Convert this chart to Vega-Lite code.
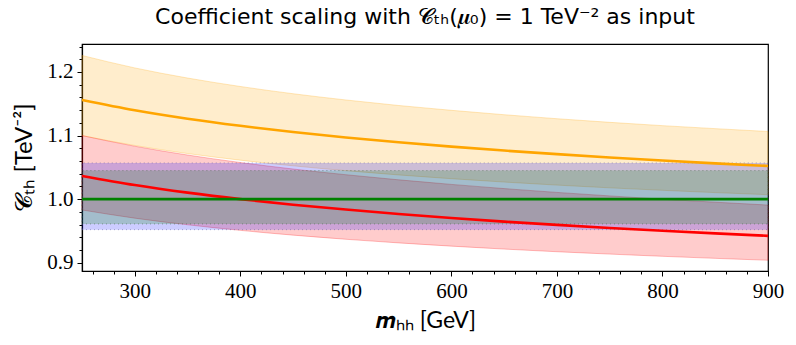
{
  "$schema": "https://vega.github.io/schema/vega-lite/v6.json",
  "width": 686,
  "height": 227,
  "autosize": {"type": "none"},
  "padding": {"left": 82, "top": 44, "right": 28, "bottom": 74},
  "title": {
    "text": "Coefficient scaling with 𝓒ₜₕ(𝝁₀) = 1 TeV⁻² as input",
    "font": "DejaVu Sans",
    "fontSize": 22,
    "fontWeight": "normal",
    "color": "black",
    "anchor": "middle",
    "offset": 7
  },
  "config": {
    "view": {"stroke": "black", "strokeWidth": 1.2},
    "axis": {
      "grid": false,
      "domainColor": "black",
      "domainWidth": 1.2,
      "tickColor": "black",
      "labelColor": "black",
      "titleColor": "black",
      "labelFont": "Liberation Serif",
      "labelFontSize": 21,
      "labelOverlap": false,
      "labelFlush": false,
      "labelBound": false
    }
  },
  "data": {
    "values": [
      {"m": 250, "o": 1.156, "olo": 1.100, "ohi": 1.226, "r": 1.0366, "rlo": 0.983, "rhi": 1.100, "g": 1.0, "glo": 0.961, "ghi": 1.045, "blo": 0.952, "bhi": 1.057},
      {"m": 300, "o": 1.1398, "olo": 1.0844, "ohi": 1.2064, "r": 1.0222, "rlo": 0.9701, "rhi": 1.0832, "g": 1.0, "glo": 0.961, "ghi": 1.045, "blo": 0.952, "bhi": 1.057},
      {"m": 350, "o": 1.1265, "olo": 1.0717, "ohi": 1.1905, "r": 1.0102, "rlo": 0.9597, "rhi": 1.0694, "g": 1.0, "glo": 0.961, "ghi": 1.045, "blo": 0.952, "bhi": 1.057},
      {"m": 400, "o": 1.1153, "olo": 1.0613, "ohi": 1.1772, "r": 1.0000, "rlo": 0.9509, "rhi": 1.0576, "g": 1.0, "glo": 0.961, "ghi": 1.045, "blo": 0.952, "bhi": 1.057},
      {"m": 450, "o": 1.1055, "olo": 1.0524, "ohi": 1.1658, "r": 0.9913, "rlo": 0.9434, "rhi": 1.0474, "g": 1.0, "glo": 0.961, "ghi": 1.045, "blo": 0.952, "bhi": 1.057},
      {"m": 500, "o": 1.0970, "olo": 1.0448, "ohi": 1.1560, "r": 0.9836, "rlo": 0.9369, "rhi": 1.0384, "g": 1.0, "glo": 0.961, "ghi": 1.045, "blo": 0.952, "bhi": 1.057},
      {"m": 550, "o": 1.0894, "olo": 1.0381, "ohi": 1.1473, "r": 0.9766, "rlo": 0.9312, "rhi": 1.0304, "g": 1.0, "glo": 0.961, "ghi": 1.045, "blo": 0.952, "bhi": 1.057},
      {"m": 600, "o": 1.0826, "olo": 1.0322, "ohi": 1.1397, "r": 0.9704, "rlo": 0.9261, "rhi": 1.0232, "g": 1.0, "glo": 0.961, "ghi": 1.045, "blo": 0.952, "bhi": 1.057},
      {"m": 650, "o": 1.0764, "olo": 1.0269, "ohi": 1.1328, "r": 0.9647, "rlo": 0.9215, "rhi": 1.0166, "g": 1.0, "glo": 0.961, "ghi": 1.045, "blo": 0.952, "bhi": 1.057},
      {"m": 700, "o": 1.0708, "olo": 1.0221, "ohi": 1.1265, "r": 0.9595, "rlo": 0.9173, "rhi": 1.0106, "g": 1.0, "glo": 0.961, "ghi": 1.045, "blo": 0.952, "bhi": 1.057},
      {"m": 750, "o": 1.0656, "olo": 1.0178, "ohi": 1.1208, "r": 0.9547, "rlo": 0.9136, "rhi": 1.0051, "g": 1.0, "glo": 0.961, "ghi": 1.045, "blo": 0.952, "bhi": 1.057},
      {"m": 800, "o": 1.0608, "olo": 1.0139, "ohi": 1.1156, "r": 0.9503, "rlo": 0.9101, "rhi": 0.9999, "g": 1.0, "glo": 0.961, "ghi": 1.045, "blo": 0.952, "bhi": 1.057},
      {"m": 850, "o": 1.0563, "olo": 1.0103, "ohi": 1.1109, "r": 0.9462, "rlo": 0.9069, "rhi": 0.9952, "g": 1.0, "glo": 0.961, "ghi": 1.045, "blo": 0.952, "bhi": 1.057},
      {"m": 900, "o": 1.0522, "olo": 1.0070, "ohi": 1.1064, "r": 0.9423, "rlo": 0.9039, "rhi": 0.9907, "g": 1.0, "glo": 0.961, "ghi": 1.045, "blo": 0.952, "bhi": 1.057}
    ]
  },
  "encoding": {
    "x": {
      "field": "m",
      "type": "quantitative",
      "scale": {"domain": [250, 900], "nice": false, "zero": false},
      "axis": {
        "title": "𝒎ₕₕ [GeV]",
        "titleFont": "Lato",
        "titleFontSize": 23,
        "titleFontWeight": "normal",
        "titleY": 56,
        "titleBaseline": "alphabetic",
        "tickCount": 100,
        "values": [260, 280, 300, 320, 340, 360, 380, 400, 420, 440, 460, 480, 500, 520, 540, 560, 580, 600, 620, 640, 660, 680, 700, 720, 740, 760, 780, 800, 820, 840, 860, 880, 900],
        "tickSize": {"condition": {"test": "datum.value % 100 === 0", "value": 5}, "value": 3},
        "labelExpr": "datum.value % 100 === 0 ? datum.label : ''",
        "labelPadding": 4
      }
    }
  },
  "layer": [
    {
      "mark": {"type": "area", "color": "orange", "fillOpacity": 0.2, "stroke": "orange", "strokeOpacity": 0.25, "strokeWidth": 1, "interpolate": "monotone"},
      "encoding": {
        "y": {
          "field": "olo",
          "type": "quantitative",
          "scale": {"domain": [0.887, 1.244], "nice": false, "zero": false},
          "axis": {
            "title": "𝓒ₜₕ [TeV⁻²]",
            "titleFont": "Lato",
            "titleFontSize": 24,
            "titleFontWeight": "normal",
            "titleX": -58,
            "titleY": 113,
            "titleAngle": -90,
            "titleAlign": "center",
            "titleBaseline": "middle",
            "tickCount": 100,
            "values": [0.9, 0.92, 0.94, 0.96, 0.98, 1.0, 1.02, 1.04, 1.06, 1.08, 1.1, 1.12, 1.14, 1.16, 1.18, 1.2, 1.22, 1.24],
            "tickSize": {"condition": {"test": "abs(datum.value * 10 - round(datum.value * 10)) < 0.01", "value": 5}, "value": 3},
            "labelExpr": "abs(datum.value * 10 - round(datum.value * 10)) < 0.01 ? format(datum.value, '.1f') : ''",
            "labelPadding": 4
          }
        },
        "y2": {"field": "ohi"}
      }
    },
    {
      "mark": {"type": "area", "color": "red", "fillOpacity": 0.2, "stroke": "red", "strokeOpacity": 0.25, "strokeWidth": 1, "interpolate": "monotone"},
      "encoding": {"y": {"field": "rlo", "type": "quantitative"}, "y2": {"field": "rhi"}}
    },
    {
      "mark": {"type": "area", "color": "blue", "fillOpacity": 0.2, "stroke": "#6060a0", "strokeOpacity": 0.5, "strokeWidth": 1, "strokeDash": [1, 3]},
      "encoding": {"y": {"field": "blo", "type": "quantitative"}, "y2": {"field": "bhi"}}
    },
    {
      "mark": {"type": "area", "color": "green", "fillOpacity": 0.2, "stroke": "#406040", "strokeOpacity": 0.5, "strokeWidth": 1, "strokeDash": [1, 3]},
      "encoding": {"y": {"field": "glo", "type": "quantitative"}, "y2": {"field": "ghi"}}
    },
    {
      "mark": {"type": "line", "color": "orange", "strokeWidth": 2.6, "interpolate": "monotone"},
      "encoding": {"y": {"field": "o", "type": "quantitative"}}
    },
    {
      "mark": {"type": "line", "color": "red", "strokeWidth": 2.6, "interpolate": "monotone"},
      "encoding": {"y": {"field": "r", "type": "quantitative"}}
    },
    {
      "mark": {"type": "line", "color": "green", "strokeWidth": 2.6},
      "encoding": {"y": {"field": "g", "type": "quantitative"}}
    }
  ]
}
